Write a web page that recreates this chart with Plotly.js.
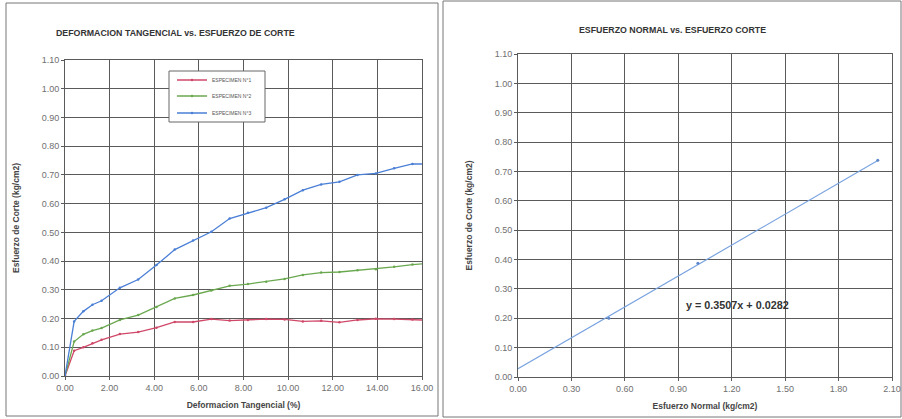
<!DOCTYPE html>
<html><head><meta charset="utf-8">
<script src="https://cdn.plot.ly/plotly-3.0.1.min.js"></script>
<style>body{margin:0;background:#fff}#chart{width:902px;height:419px}</style>
</head><body><div id="chart"></div>
<script>
// Left chart: shear strain (%) vs shear stress (kg/cm2)
const strainPct = [0, 0.41, 0.82, 1.23, 1.64, 2.46, 3.28, 4.10, 4.92, 5.74, 6.56, 7.38, 8.20, 9.02, 9.84, 10.66, 11.48, 12.30, 13.11, 13.93, 14.75, 15.57, 16.39];
const specimen1 = [0, 0.088, 0.100, 0.114, 0.126, 0.146, 0.153, 0.168, 0.188, 0.188, 0.198, 0.193, 0.195, 0.198, 0.197, 0.190, 0.192, 0.187, 0.195, 0.199, 0.198, 0.197, 0.194];
const specimen2 = [0, 0.120, 0.145, 0.158, 0.167, 0.195, 0.212, 0.240, 0.270, 0.282, 0.298, 0.314, 0.320, 0.328, 0.338, 0.352, 0.360, 0.362, 0.368, 0.372, 0.380, 0.388, 0.392];
const specimen3 = [0, 0.190, 0.225, 0.248, 0.262, 0.307, 0.336, 0.386, 0.440, 0.472, 0.502, 0.548, 0.568, 0.586, 0.615, 0.647, 0.667, 0.676, 0.700, 0.705, 0.723, 0.738, 0.738];
const seriesNames = ["ESPECIMEN N°1", "ESPECIMEN N°2", "ESPECIMEN N°3"];

// Right chart: normal stress vs peak shear stress
const normalStress = [0.51, 1.01, 2.02];
const peakShear = [0.20, 0.387, 0.738];
const trendX = [0, 2.02];
const trendY = [0.028, 0.737];
const equationText = "y = 0.3507x + 0.0282";

const W = 902, H = 419;
const dx = p => p / W, dy = p => 1 - p / H;
const FONT = "Arial, 'Liberation Sans', sans-serif";
const gridCol = "#5a5a5a";

const axisBase = {
  showgrid: true, gridcolor: gridCol, gridwidth: 1,
  showline: true, linecolor: gridCol, linewidth: 1, mirror: true,
  zeroline: false, ticks: "outside", ticklen: 3, tickcolor: gridCol,
  tickfont: {family: FONT, size: 9, color: "#707070"}, tickformat: ".2f"
};

const colors = ["#d04868", "#6aa84f", "#4a7fd6"];
const ys = [specimen1, specimen2, specimen3];
const legendIds = ["legend", "legend2", "legend3"];
const traces = ys.map((y, i) => ({
  x: strainPct, y: y, name: seriesNames[i], type: "scatter", mode: "lines+markers",
  line: {color: colors[i], width: 1.3}, marker: {size: 2.5, color: colors[i]},
  xaxis: "x", yaxis: "y", legend: legendIds[i]
}));
traces.push({
  x: trendX, y: trendY, type: "scatter", mode: "lines", showlegend: false,
  line: {color: "#7aa3e0", width: 1.2}, xaxis: "x2", yaxis: "y2"
});
traces.push({
  x: normalStress, y: peakShear, type: "scatter", mode: "markers", showlegend: false,
  marker: {size: 3, color: "#5b86c9"}, xaxis: "x2", yaxis: "y2"
});

const legendBase = {xanchor: "left", yanchor: "middle", bgcolor: "rgba(0,0,0,0)", borderwidth: 0,
  font: {family: FONT, size: 5, color: "#555"}, itemwidth: 30};
const legendRows = [80, 96, 113];

const titleFont = {family: FONT, size: 8.5, color: "#444"};
const layout = {
  width: W, height: H, margin: {l: 0, r: 0, t: 0, b: 0},
  paper_bgcolor: "#fff", plot_bgcolor: "#fff", font: {family: FONT},
  xaxis: Object.assign({}, axisBase, {domain: [dx(65), dx(422)], range: [0, 16], dtick: 2, tick0: 0,
    title: {text: "<b>Deformacion Tangencial (%)</b>", font: titleFont, standoff: 10}}),
  yaxis: Object.assign({}, axisBase, {domain: [dy(376), dy(60)], range: [0, 1.1], dtick: 0.1, tick0: 0,
    title: {text: "<b>Esfuerzo de Corte (kg/cm2)</b>", font: titleFont, standoff: 20}}),
  xaxis2: Object.assign({}, axisBase, {anchor: "y2", domain: [dx(518), dx(892)], range: [0, 2.1], dtick: 0.3, tick0: 0,
    title: {text: "<b>Esfuerzo Normal (kg/cm2)</b>", font: titleFont, standoff: 10}}),
  yaxis2: Object.assign({}, axisBase, {anchor: "x2", domain: [dy(377), dy(54)], range: [0, 1.1], dtick: 0.1, tick0: 0,
    title: {text: "<b>Esfuerzo de Corte (kg/cm2)</b>", font: titleFont, standoff: 20}}),
  legend: Object.assign({}, legendBase, {x: dx(172), y: dy(legendRows[0])}),
  legend2: Object.assign({}, legendBase, {x: dx(172), y: dy(legendRows[1])}),
  legend3: Object.assign({}, legendBase, {x: dx(172), y: dy(legendRows[2])}),
  annotations: [
    {xref: "paper", yref: "paper", x: dx(175), y: dy(33), xanchor: "center", yanchor: "middle",
      text: "<b>DEFORMACION TANGENCIAL vs. ESFUERZO DE CORTE</b>",
      showarrow: false, font: {family: FONT, size: 8.8, color: "#333"}},
    {xref: "paper", yref: "paper", x: dx(672), y: dy(30), xanchor: "center", yanchor: "middle",
      text: "<b>ESFUERZO NORMAL vs. ESFUERZO CORTE</b>",
      showarrow: false, font: {family: FONT, size: 8.8, color: "#333"}},
    {xref: "paper", yref: "paper", x: dx(737), y: dy(305), xanchor: "center", yanchor: "middle",
      text: "<b>" + equationText + "</b>",
      showarrow: false, font: {family: FONT, size: 10.8, color: "#333"}}
  ],
  shapes: [
    {type: "rect", xref: "paper", yref: "paper", x0: dx(6), x1: dx(438), y0: dy(416), y1: dy(3), line: {color: "#777", width: 1}},
    {type: "rect", xref: "paper", yref: "paper", x0: dx(443), x1: dx(901), y0: dy(417), y1: dy(1), line: {color: "#777", width: 1}},
    {type: "rect", xref: "paper", yref: "paper", layer: "above", x0: dx(169), x1: dx(265), y0: dy(122), y1: dy(71),
      fillcolor: "#fff", line: {color: "#666", width: 1}}
  ]
};

Plotly.newPlot("chart", traces, layout, {staticPlot: true, displayModeBar: false});
</script></body></html>
